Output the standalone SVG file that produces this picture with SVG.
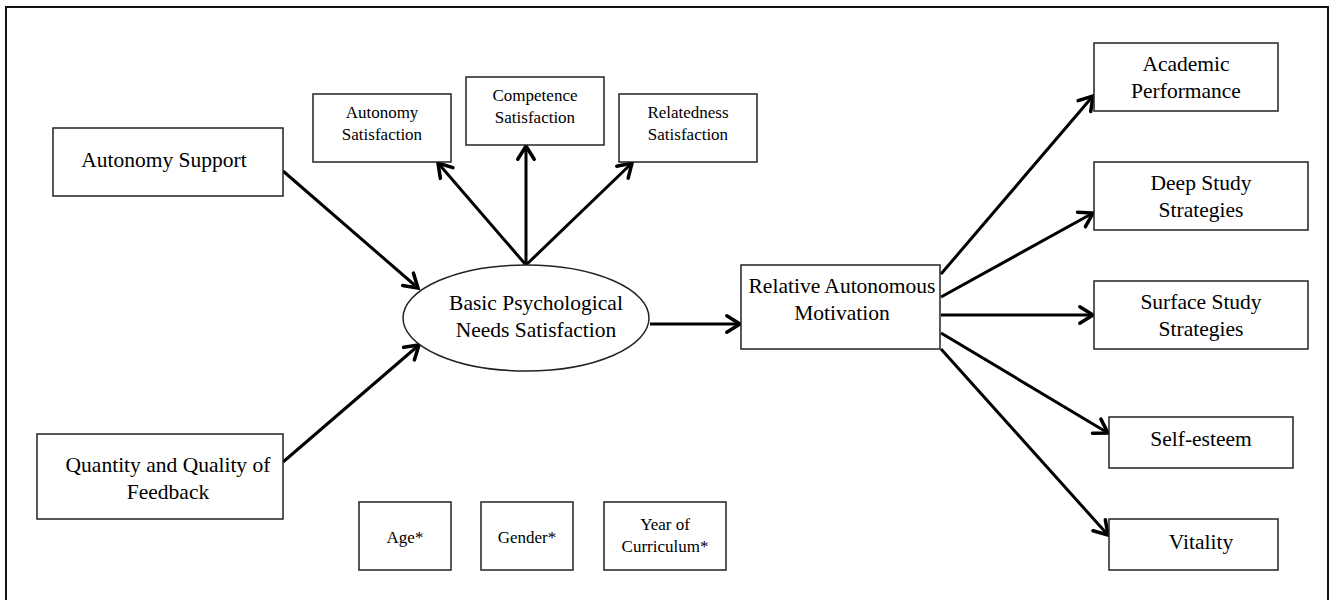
<svg xmlns="http://www.w3.org/2000/svg" width="1331" height="600" viewBox="0 0 1331 600">
<style>
.box{fill:#fff;stroke:#222;stroke-width:1.5}
.t{font-family:"Liberation Serif","Times New Roman",serif;fill:#000;text-anchor:middle}
.l{font-size:21.5px}
.s{font-size:17px}
.c{stroke:#000;stroke-width:3;fill:none;marker-end:url(#ah)}
</style>
<defs>
<marker id="ah" markerUnits="userSpaceOnUse" markerWidth="22" markerHeight="22" refX="15" refY="9" orient="auto" viewBox="0 0 20 18">
<path d="M3,1.5 L15,9 L3,16.5" fill="none" stroke="#000" stroke-width="3.2" stroke-linecap="round" stroke-linejoin="miter"/>
</marker>
</defs>
<rect x="6" y="7" width="1322" height="610" fill="none" stroke="#111" stroke-width="2"/>
<g id="connectors">
<line class="c" x1="283" y1="171" x2="418" y2="288"/>
<line class="c" x1="283" y1="462" x2="419" y2="345"/>
<line class="c" x1="526" y1="265" x2="438" y2="163"/>
<line class="c" x1="526" y1="265" x2="526" y2="146"/>
<line class="c" x1="526" y1="265" x2="632" y2="163"/>
<line class="c" x1="650" y1="324" x2="740" y2="324"/>
<line class="c" x1="941" y1="274" x2="1093" y2="96"/>
<line class="c" x1="941" y1="297" x2="1093" y2="213"/>
<line class="c" x1="941" y1="315" x2="1093" y2="315"/>
<line class="c" x1="941" y1="333" x2="1108" y2="433"/>
<line class="c" x1="941" y1="349" x2="1108" y2="535"/>
</g>
<g id="autonomy-support"><rect class="box" x="53" y="128" width="230" height="68"/><text class="t l" x="164" y="167">Autonomy Support</text></g>
<g id="feedback"><rect class="box" x="37" y="434" width="246" height="85"/><text class="t l" x="168" y="472">Quantity and Quality of</text><text class="t l" x="168" y="499">Feedback</text></g>
<g id="autonomy-satisfaction"><rect class="box" x="313" y="94" width="138" height="68"/><text class="t s" x="382" y="118">Autonomy</text><text class="t s" x="382" y="140">Satisfaction</text></g>
<g id="competence-satisfaction"><rect class="box" x="466" y="77" width="138" height="68"/><text class="t s" x="535" y="101">Competence</text><text class="t s" x="535" y="123">Satisfaction</text></g>
<g id="relatedness-satisfaction"><rect class="box" x="619" y="94" width="138" height="68"/><text class="t s" x="688" y="118">Relatedness</text><text class="t s" x="688" y="140">Satisfaction</text></g>
<g id="bpns"><ellipse class="box" cx="526" cy="318" rx="123" ry="53"/><text class="t l" x="536" y="310">Basic Psychological</text><text class="t l" x="536" y="337">Needs Satisfaction</text></g>
<g id="ram"><rect class="box" x="741" y="265" width="199" height="84"/><text class="t l" x="842" y="293">Relative Autonomous</text><text class="t l" x="842" y="320">Motivation</text></g>
<g id="academic"><rect class="box" x="1094" y="43" width="184" height="68"/><text class="t l" x="1186" y="71">Academic</text><text class="t l" x="1186" y="98">Performance</text></g>
<g id="deep"><rect class="box" x="1094" y="162" width="214" height="68"/><text class="t l" x="1201" y="190">Deep Study</text><text class="t l" x="1201" y="217">Strategies</text></g>
<g id="surface"><rect class="box" x="1094" y="281" width="214" height="68"/><text class="t l" x="1201" y="309">Surface Study</text><text class="t l" x="1201" y="336">Strategies</text></g>
<g id="self-esteem"><rect class="box" x="1109" y="417" width="184" height="51"/><text class="t l" x="1201" y="446">Self-esteem</text></g>
<g id="vitality"><rect class="box" x="1109" y="519" width="169" height="51"/><text class="t l" x="1201" y="549">Vitality</text></g>
<g id="age"><rect class="box" x="359" y="502" width="92" height="68"/><text class="t s" x="405" y="543">Age*</text></g>
<g id="gender"><rect class="box" x="481" y="502" width="92" height="68"/><text class="t s" x="527" y="543">Gender*</text></g>
<g id="year"><rect class="box" x="604" y="502" width="122" height="68"/><text class="t s" x="665" y="530">Year of</text><text class="t s" x="665" y="552">Curriculum*</text></g>
</svg>
